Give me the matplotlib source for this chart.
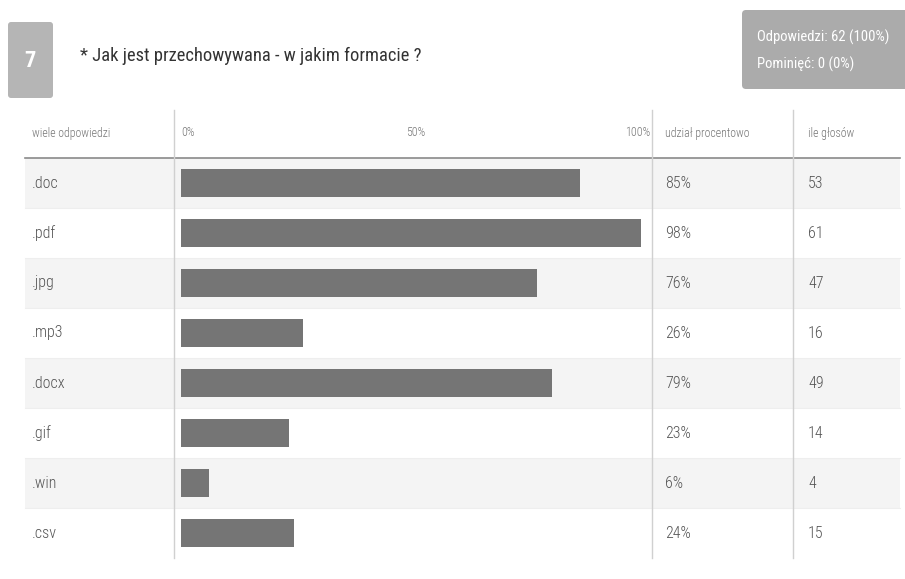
import matplotlib
matplotlib.use('Agg')
import matplotlib.pyplot as plt
from matplotlib.patches import FancyBboxPatch, Rectangle
from matplotlib.transforms import blended_transform_factory

# ─── Data ────────────────────────────────────────────────────────────
labels = ['.doc', '.pdf', '.jpg', '.mp3', '.docx', '.gif', '.win', '.csv']
percents = [85, 98, 76, 26, 79, 23, 6, 24]
votes = [53, 61, 47, 16, 49, 14, 4, 15]
scale_ticks = [0, 50, 100]
scale_labels = ['0%', '50%', '100%']
question_no = '7'
question = '* Jak jest przechowywana - w jakim formacie ?'
summary = ['Odpowiedzi: 62 (100%)', 'Pominięć: 0 (0%)']
headers = ['wiele odpowiedzi', 'udział procentowo', 'ile głosów']

FONT = ['Roboto Condensed', 'Liberation Sans', 'DejaVu Sans']
plt.rcParams['font.family'] = FONT

W, H = 905, 579
fig = plt.figure(figsize=(W / 100, H / 100), dpi=100)
fig.patch.set_facecolor('white')

# layout axes in pixel coordinates
lay = fig.add_axes([0, 0, 1, 1])
lay.set_xlim(0, W)
lay.set_ylim(H, 0)
lay.axis('off')

# question number box
lay.add_patch(FancyBboxPatch((8, 22), 45, 76, boxstyle='round,pad=0,rounding_size=3',
                             fc='#b5b5b5', ec='none'))
lay.text(30, 61, question_no, color='white', fontsize=16, fontweight='bold',
         ha='center', va='center')
lay.text(80, 56, question, color='#333333', fontsize=13.3, ha='left', va='center')

# summary box
lay.add_patch(FancyBboxPatch((742, 10), 170, 79, boxstyle='round,pad=0,rounding_size=4',
                             fc='#ababab', ec='none'))
lay.text(757, 37, summary[0], color='white', fontsize=10.5, va='center')
lay.text(757, 64, summary[1], color='white', fontsize=10.5, va='center')

# table geometry
top, row_h = 158, 50
n = len(labels)
bottom = top + row_h * n
x_left, x_right = 25, 900
col1, col2, col3 = 174, 652, 793
body = dict(color='#555555', fontsize=11.5, va='center', fontweight='light')

for i in range(n):
    if i % 2 == 0:
        lay.add_patch(Rectangle((x_left, top + i * row_h), x_right - x_left, row_h,
                                fc='#f4f4f4', ec='none', zorder=0))
    yc = top + i * row_h + row_h / 2
    lay.text(32, yc, labels[i], **body)
    lay.text(665, yc, f'{percents[i]}%', **body)
    lay.text(808, yc, str(votes[i]), **body)
    if i > 0:
        lay.plot([x_left, x_right], [top + i * row_h] * 2, color='#eeeeee', lw=0.8, zorder=1)

lay.plot([x_left, x_right], [top, top], color='#8a8a8a', lw=1.2, zorder=2)
for xv in (col1, col2, col3):
    lay.plot([xv, xv], [110, bottom], color='#d0d0d0', lw=1, zorder=2)

head = dict(color='#777777', fontsize=8.6, va='center', fontweight='light')
lay.text(32, 133, headers[0], **head)
lay.text(665, 133, headers[1], **head)
lay.text(808, 133, headers[2], **head)

# bar axes
bx0, bx1 = 181, 650
ax = fig.add_axes([bx0 / W, 1 - bottom / H, (bx1 - bx0) / W, (bottom - top) / H])
ax.patch.set_alpha(0)
ax.barh(range(n), percents, height=0.56, color='#757575', zorder=3)
ax.set_xlim(0, 100)
ax.set_ylim(n - 0.5, -0.5)
ax.axis('off')

# scale labels in header row
tr = blended_transform_factory(ax.transData, lay.transData)
for t, s in zip(scale_ticks, scale_labels):
    ha = {0: 'left', 50: 'center', 100: 'right'}[t]
    ax.text(t, 133, s, transform=tr, ha=ha, **head)

plt.savefig('out.png', dpi=100)
plt.close()
